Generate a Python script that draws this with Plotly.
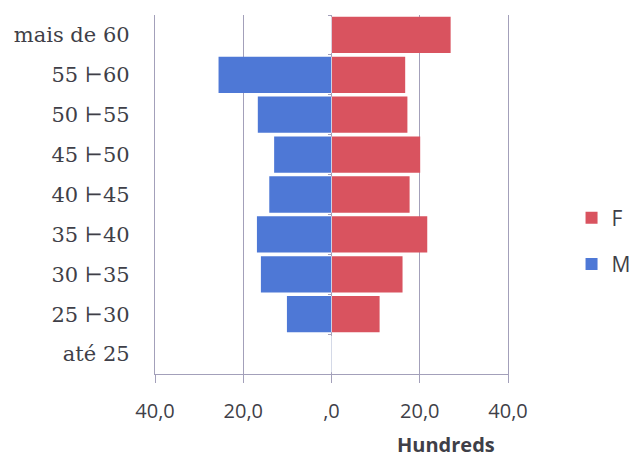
import plotly.graph_objects as go

categories = ["até 25", "25 ⊢30", "30 ⊢35", "35 ⊢40", "40 ⊢45",
              "45 ⊢50", "50 ⊢55", "55 ⊢60", "mais de 60"]
male = [0, -10.1, -16.0, -16.9, -14.1, -13.0, -16.7, -25.6, 0]
female = [0, 10.9, 16.1, 21.7, 17.7, 20.1, 17.2, 16.7, 27.0]
tick_vals = [-40, -20, 0, 20, 40]
tick_text = ["40,0", "20,0", ",0", "20,0", "40,0"]

red = "#D9535F"
blue = "#4E78D6"
axis_col = "#A3A0BA"
text_col = "#3F3F48"

fig = go.Figure()
fig.add_trace(go.Bar(y=categories, x=female, orientation="h", name="F",
                     marker=dict(color=red, line=dict(width=0)),
                     legendgroup="F"))
fig.add_trace(go.Bar(y=categories, x=male, orientation="h", name="M",
                     marker=dict(color=blue, line=dict(width=0)),
                     legendgroup="M"))
# invisible trace for the boundary tick axis at zero
fig.add_trace(go.Bar(y=categories, x=[0] * len(categories), orientation="h",
                     yaxis="y2", showlegend=False, hoverinfo="skip",
                     marker=dict(color="rgba(0,0,0,0)")))

zero_pos = (0 - (-40)) / 80.0

fig.update_layout(
    width=634, height=458,
    margin=dict(l=155, r=126, t=15, b=84, autoexpand=False),
    paper_bgcolor="white", plot_bgcolor="white",
    barmode="relative", bargap=0.09,
    showlegend=True,
    legend=dict(x=1.18, y=0.37, xanchor="left", yanchor="middle",
                traceorder="grouped", tracegroupgap=16,
                font=dict(family="Open Sans", size=21, color=text_col),
                itemwidth=30),
    xaxis=dict(range=[-40, 40], tickvals=tick_vals, ticktext=tick_text,
               showgrid=True, gridcolor=axis_col, gridwidth=1.3,
               zeroline=True, zerolinecolor=axis_col, zerolinewidth=1.3,
               showline=True, linecolor=axis_col, linewidth=1.3,
               ticks="outside", ticklen=8, tickcolor=axis_col,
               ticklabelstandoff=11,
               tickfont=dict(family="Open Sans", size=20, color=text_col),
               fixedrange=True),
    yaxis=dict(categoryorder="array", categoryarray=categories,
               showgrid=False, zeroline=False, showline=True, mirror=True,
               linecolor=axis_col, linewidth=1.3, ticks="",
               ticklabelstandoff=20,
               tickfont=dict(family="DejaVu Serif", size=21, color=text_col),
               fixedrange=True),
    yaxis2=dict(overlaying="y", anchor="free", position=zero_pos,
                matches="y", categoryorder="array", categoryarray=categories,
                showticklabels=False, showgrid=False, zeroline=False,
                showline=False, ticks="outside", ticklen=4,
                tickcolor=axis_col, tickson="boundaries", fixedrange=True),
    annotations=[dict(text="<b>Hundreds</b>", xref="paper", yref="paper",
                      x=0.824, y=-0.195, xanchor="center", yanchor="middle",
                      showarrow=False,
                      font=dict(family="Open Sans", size=20, color=text_col))],
)

fig.write_html("out.html")
